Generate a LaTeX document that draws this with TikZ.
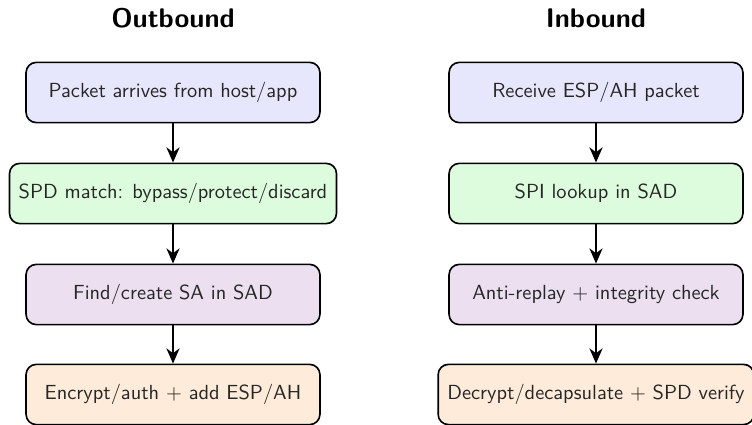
\documentclass[tikz,border=0pt]{standalone}
\usetikzlibrary{arrows.meta}
\renewcommand{\familydefault}{\sfdefault}
\definecolor{cblue}{RGB}{230,230,252}
\definecolor{cgreen}{RGB}{221,252,221}
\definecolor{cpurple}{RGB}{235,223,240}
\definecolor{corange}{RGB}{254,235,217}
\begin{document}
\begin{tikzpicture}[x=0.49pt,y=0.49pt,
  stepbox/.style={draw, thick, rounded corners=5pt, minimum width=144pt, minimum height=29.5pt, inner xsep=4.5pt, font=\sffamily, text=black!85},
  title/.style={font=\fontsize{13.2}{15}\selectfont\bfseries\sffamily},
  conn/.style={thick, -{Stealth[length=7.5pt,width=6.5pt]}}]
\useasboundingbox (0,0) rectangle (752,-425);
\node[title] (t1) at (173,-18) {Outbound};
\node[title] (t2) at (596,-18) {Inbound};
\node[stepbox, fill=cblue]   (o1) at (173,-92.5) {Packet arrives from host/app};
\node[stepbox, fill=cgreen]  (o2) at (173,-193.5) {SPD match: bypass/protect/discard};
\node[stepbox, fill=cpurple] (o3) at (173,-294.5) {Find/create SA in SAD};
\node[stepbox, fill=corange] (o4) at (173,-394.5) {Encrypt/auth + add ESP/AH};
\node[stepbox, fill=cblue]   (i1) at (596,-92.5) {Receive ESP/AH packet};
\node[stepbox, fill=cgreen]  (i2) at (596,-193.5) {SPI lookup in SAD};
\node[stepbox, fill=cpurple] (i3) at (596,-294.5) {Anti-replay + integrity check};
\node[stepbox, fill=corange] (i4) at (596,-394.5) {Decrypt/decapsulate + SPD verify};
\draw[conn] (o1) -- (o2);
\draw[conn] (o2) -- (o3);
\draw[conn] (o3) -- (o4);
\draw[conn] (i1) -- (i2);
\draw[conn] (i2) -- (i3);
\draw[conn] (i3) -- (i4);
\end{tikzpicture}
\end{document}
